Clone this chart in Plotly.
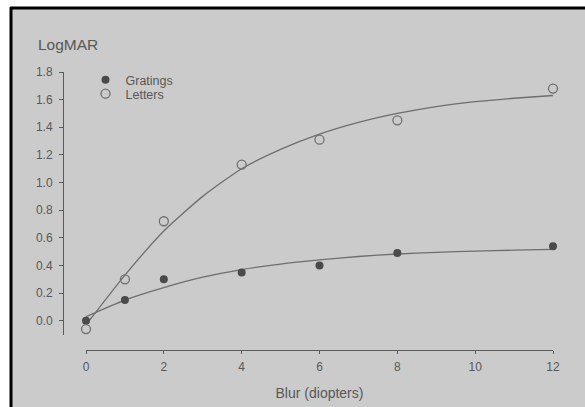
import plotly.graph_objects as go

W, H = 585, 407

# Measured visual acuity (LogMAR) against dioptric blur
blur = [0, 1, 2, 4, 6, 8, 12]
gratings = [0.00, 0.15, 0.30, 0.35, 0.40, 0.49, 0.54]
letters = [-0.06, 0.30, 0.72, 1.13, 1.31, 1.45, 1.68]

# Fitted curves, sampled along the blur axis
fit_x = [0, 1, 2, 3, 4, 5, 6, 7, 8, 9, 10, 11, 12]
gratings_fit = [0.03, 0.15, 0.24, 0.315, 0.37, 0.41, 0.44, 0.465, 0.483, 0.495, 0.504, 0.511, 0.516]
letters_fit = [-0.03, 0.33, 0.65, 0.90, 1.10, 1.24, 1.35, 1.435, 1.50, 1.55, 1.585, 1.61, 1.63]

y_ticks = [0.0, 0.2, 0.4, 0.6, 0.8, 1.0, 1.2, 1.4, 1.6, 1.8]
x_ticks = [0, 2, 4, 6, 8, 10, 12]

BG = "#cbcbcb"
INK = "#585858"
CURVE = "#6e6e6e"
FONT = "Liberation Sans, Arial, sans-serif"


def px(x):
    return x / W


def py(y):
    return 1 - y / H


fig = go.Figure()

for ys in (letters_fit, gratings_fit):
    fig.add_trace(go.Scatter(x=fit_x, y=ys, mode="lines",
                             line=dict(color=CURVE, width=1.3, shape="spline", smoothing=0.6),
                             showlegend=False, hoverinfo="skip", cliponaxis=False))

fig.add_trace(go.Scatter(x=blur, y=gratings, mode="markers", name="Gratings",
                         marker=dict(symbol="circle", size=8, color="#4a4a4a",
                                     line=dict(width=0)),
                         cliponaxis=False, legend="legend"))
fig.add_trace(go.Scatter(x=blur, y=letters, mode="markers", name="Letters",
                         marker=dict(symbol="circle-open", size=9, color="#707070",
                                     line=dict(width=1.3, color="#707070")),
                         cliponaxis=False, legend="legend2"))

# Page frame: white margin strips on top and left, then a black rule
fig.add_shape(type="rect", xref="paper", yref="paper",
              x0=0, x1=px(10), y0=0, y1=1,
              fillcolor="white", line_width=0, layer="below")
fig.add_shape(type="rect", xref="paper", yref="paper",
              x0=0, x1=1, y0=py(7), y1=1,
              fillcolor="white", line_width=0, layer="below")
fig.add_shape(type="line", xref="paper", yref="paper",
              x0=px(10), x1=1, y0=py(8), y1=py(8),
              line=dict(color="black", width=3), layer="below")
fig.add_shape(type="line", xref="paper", yref="paper",
              x0=px(11), x1=px(11), y0=0, y1=py(7),
              line=dict(color="black", width=3), layer="below")

fig.add_annotation(text="LogMAR", xref="paper", yref="paper",
                   x=px(36), y=py(44), xanchor="left", yanchor="middle",
                   showarrow=False, font=dict(family=FONT, size=15.5, color=INK))

legend_common = dict(xanchor="left", yanchor="middle", bgcolor="rgba(0,0,0,0)",
                     borderwidth=0, font=dict(family=FONT, size=12.5, color=INK),
                     itemwidth=30)

fig.update_layout(
    width=W, height=H, autosize=False,
    margin=dict(l=0, r=0, t=0, b=0, pad=0, autoexpand=False),
    paper_bgcolor=BG,
    plot_bgcolor="rgba(0,0,0,0)",
    font=dict(family=FONT, color=INK),
    legend=dict(x=px(85.5), y=py(80), **legend_common),
    legend2=dict(x=px(85.5), y=py(94), **legend_common),
    xaxis=dict(
        domain=[px(86), px(553)], range=[0, 12],
        anchor="free", position=py(350), automargin=False,
        showgrid=False, zeroline=False,
        showline=True, linecolor="#5a5a5a", linewidth=1,
        ticks="outside", ticklen=3, tickcolor="#5a5a5a", tickwidth=1,
        ticklabelstandoff=3,
        tickvals=x_ticks, ticktext=[str(v) for v in x_ticks],
        tickfont=dict(family=FONT, size=12, color=INK),
        title=dict(text="Blur (diopters)", standoff=14,
                   font=dict(family=FONT, size=14, color=INK)),
    ),
    yaxis=dict(
        domain=[py(335), py(72)], range=[-0.103, 1.8],
        anchor="free", position=px(63), automargin=False,
        showgrid=False, zeroline=False,
        showline=True, linecolor="#5a5a5a", linewidth=1,
        ticks="outside", ticklen=4, tickcolor="#5a5a5a", tickwidth=1,
        ticklabelstandoff=4,
        tickvals=y_ticks, ticktext=[f"{v:.1f}" for v in y_ticks],
        tickfont=dict(family=FONT, size=12, color=INK),
    ),
)

fig.write_html("out.html")
